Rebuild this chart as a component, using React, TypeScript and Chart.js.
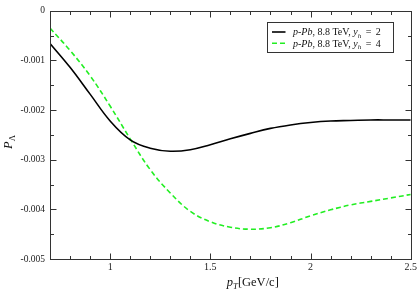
import React, { useEffect, useRef } from 'react';
import { Chart, registerables } from 'chart.js';

Chart.register(...registerables);

// ---- data ----
const pT = [0.7, 0.8, 0.9, 1.0, 1.1, 1.2, 1.3, 1.4, 1.5, 1.6, 1.7, 1.8, 1.9, 2.0, 2.1, 2.2, 2.3, 2.4, 2.5];
const polY2 = [-0.00066, -0.00114, -0.00168, -0.00222, -0.0026, -0.00277, -0.00283, -0.0028, -0.0027, -0.00258, -0.00247, -0.00237, -0.0023, -0.00225, -0.00222, -0.00221, -0.0022, -0.0022, -0.0022];
const polY4 = [-0.00035, -0.0008, -0.00131, -0.00192, -0.00258, -0.0032, -0.00367, -0.00404, -0.00425, -0.00436, -0.0044, -0.00437, -0.00427, -0.00413, -0.00401, -0.00391, -0.00384, -0.00377, -0.0037];
const rapidities = [2, 4];
const xTickLabels = ['1', '1.5', '2', '2.5'];
const xTickValues = [1, 1.5, 2, 2.5];
const yTickValues = [0, -0.001, -0.002, -0.003, -0.004, -0.005];
const yTickLabels = ['0', '-0.001', '-0.002', '-0.003', '-0.004', '-0.005'];

const SERIF = '"Liberation Serif", "Times New Roman", serif';
const FRAME = '#333333';

const near = (a: number, b: number) => Math.abs(a - b) < 1e-9;

const framePlugin = {
  id: 'frameTicks',
  afterDatasetsDraw(chart: any) {
    const { ctx, chartArea: a, scales } = chart;
    const x = scales.x;
    const y = scales.y;
    ctx.save();
    ctx.strokeStyle = FRAME;
    ctx.lineWidth = 1;
    const L = Math.round(a.left) + 0.5;
    const R = Math.round(a.right) + 0.5;
    const T = Math.round(a.top) + 0.5;
    const B = Math.round(a.bottom) + 0.5;
    ctx.strokeRect(L, T, R - L, B - T);
    ctx.beginPath();
    x.ticks.forEach((t: any) => {
      const major = xTickValues.some((v) => near(v, t.value));
      const len = major ? 6 : 3.5;
      const px = Math.round(x.getPixelForValue(t.value)) + 0.5;
      ctx.moveTo(px, B);
      ctx.lineTo(px, B - len);
      ctx.moveTo(px, T);
      ctx.lineTo(px, T + len);
    });
    y.ticks.forEach((t: any) => {
      const major = yTickValues.some((v) => near(v, t.value));
      const len = major ? 6 : 3.5;
      const py = Math.round(y.getPixelForValue(t.value)) + 0.5;
      ctx.moveTo(L, py);
      ctx.lineTo(L + len, py);
      ctx.moveTo(R, py);
      ctx.lineTo(R - len, py);
    });
    ctx.stroke();
    ctx.restore();
  },
};

const drawRich = (ctx: any, parts: { t: string; italic?: boolean; sub?: boolean }[], x: number, y: number, size: number) => {
  let cx = x;
  parts.forEach((p) => {
    const s = p.sub ? size * 0.7 : size;
    ctx.font = `${p.italic ? 'italic ' : ''}${s}px ${SERIF}`;
    ctx.fillText(p.t, cx, p.sub ? y + size * 0.25 : y);
    cx += ctx.measureText(p.t).width;
  });
  return cx;
};

const annotPlugin = {
  id: 'annot',
  afterDraw(chart: any) {
    const { ctx, chartArea: a } = chart;
    ctx.save();
    ctx.fillStyle = '#111';
    ctx.textBaseline = 'alphabetic';
    // x title
    drawRich(ctx, [
      { t: 'p', italic: true },
      { t: 'T', italic: true, sub: true },
      { t: '[GeV/c]' },
    ], a.left + (a.right - a.left) * 0.49, 286, 12.5);
    // y title (rotated)
    ctx.translate(12, 149);
    ctx.rotate(-Math.PI / 2);
    drawRich(ctx, [
      { t: 'P', italic: true },
      { t: 'Λ', sub: true },
    ], 0, 0, 12.5);
    ctx.setTransform(1, 0, 0, 1, 0, 0);

    // legend box
    const bx = 267.5, by = 22.5, bw = 126, bh = 30;
    ctx.fillStyle = '#fff';
    ctx.fillRect(bx, by, bw, bh);
    ctx.strokeStyle = FRAME;
    ctx.lineWidth = 1;
    ctx.strokeRect(bx, by, bw, bh);
    chart.data.datasets.forEach((ds: any, i: number) => {
      const ly = by + 9.5 + i * 11.3;
      ctx.save();
      ctx.strokeStyle = ds.borderColor;
      ctx.lineWidth = ds.borderWidth;
      ctx.setLineDash(ds.borderDash || []);
      ctx.beginPath();
      ctx.moveTo(bx + 4.5, ly);
      ctx.lineTo(bx + 18, ly);
      ctx.stroke();
      ctx.restore();
      ctx.fillStyle = '#111';
      drawRich(ctx, [
        { t: 'p-Pb', italic: true },
        { t: ', 8.8 TeV, ' },
        { t: 'y', italic: true },
        { t: 'h', italic: true, sub: true },
        { t: `\u2009 = \u2009${rapidities[i]}` },
      ], bx + 25.5, ly + 3.2, 10);
    });
    ctx.restore();
  },
};

export default function App() {
  const ref = useRef<HTMLCanvasElement | null>(null);
  useEffect(() => {
    document.body.style.margin = '0';
    const canvas = ref.current;
    if (!canvas) return;
    const chart = new Chart(canvas, {
      type: 'line',
      data: {
        labels: pT,
        datasets: [
          {
            label: `p-Pb, 8.8 TeV, y_h = ${rapidities[0]}`,
            data: pT.map((x, i) => ({ x, y: polY2[i] })),
            borderColor: '#000000',
            borderWidth: 1.6,
            pointRadius: 0,
            tension: 0.4,
            fill: false,
          },
          {
            label: `p-Pb, 8.8 TeV, y_h = ${rapidities[1]}`,
            data: pT.map((x, i) => ({ x, y: polY4[i] })),
            borderColor: '#22ee22',
            borderWidth: 1.6,
            borderDash: [5, 3],
            pointRadius: 0,
            tension: 0.4,
            fill: false,
          },
        ],
      },
      options: {
        animation: false,
        responsive: false,
        maintainAspectRatio: false,
        layout: { padding: { left: 0, right: 7, top: 5, bottom: 0 } },
        plugins: { legend: { display: false }, tooltip: { enabled: false }, title: { display: false } },
        scales: {
          x: {
            type: 'linear',
            min: 0.7,
            max: 2.5,
            grid: { display: false, drawTicks: false },
            border: { display: false },
            ticks: {
              stepSize: 0.1,
              padding: 2,
              maxRotation: 0,
              autoSkip: false,
              color: '#222',
              font: { family: SERIF, size: 10 },
              callback: (v: any) => {
                const idx = xTickValues.findIndex((t) => near(t, Number(v)));
                return idx >= 0 ? xTickLabels[idx] : '';
              },
            },
            afterFit: (s: any) => { s.height = 30; },
          },
          y: {
            type: 'linear',
            min: -0.005,
            max: 0,
            grid: { display: false, drawTicks: false },
            border: { display: false },
            ticks: {
              stepSize: 0.0005,
              padding: 5,
              autoSkip: false,
              color: '#222',
              font: { family: SERIF, size: 9.5 },
              callback: (v: any) => {
                const idx = yTickValues.findIndex((t) => near(t, Number(v)));
                return idx >= 0 ? yTickLabels[idx] : '';
              },
            },
            afterFit: (s: any) => { s.width = 50; },
          },
        },
      },
      plugins: [framePlugin, annotPlugin],
    } as any);
    return () => chart.destroy();
  }, []);
  return (
    <div style={{ width: 419, height: 289, background: '#fff' }}>
      <canvas ref={ref} width={419} height={289} style={{ display: 'block' }} />
    </div>
  );
}
